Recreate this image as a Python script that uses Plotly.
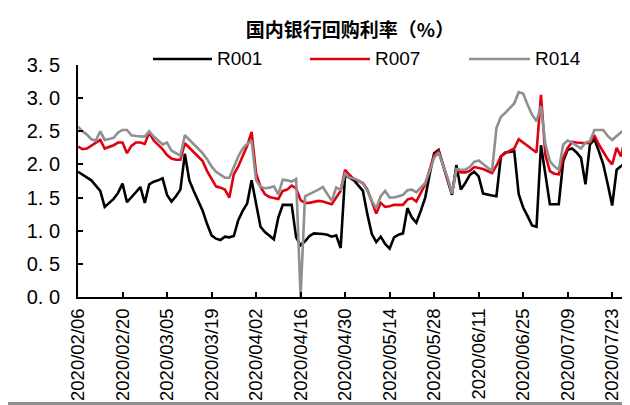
import pandas as pd
import plotly.graph_objects as go

# 银行间回购利率（%），交易日序列，自 2020/02/06 起
r001 = [1.89, 1.85, 1.80, 1.76, 1.68, 1.60, 1.36, 1.42, 1.48, 1.57,
        1.71, 1.43, 1.50, 1.58, 1.66, 1.42, 1.70, 1.74, 1.76, 1.79,
        1.54, 1.44, 1.52, 1.62, 2.16, 1.76, 1.60, 1.45, 1.30, 1.10,
        0.93, 0.88, 0.86, 0.91, 0.90, 0.92, 1.16, 1.30, 1.41, 1.76,
        1.41, 1.06, 0.98, 0.93, 0.87, 1.20, 1.39, 1.39, 1.39, 0.90,
        0.78, 0.84, 0.92, 0.96, 0.96, 0.95, 0.94, 0.91, 0.93, 0.74,
        1.84, 1.80, 1.76, 1.68, 1.60, 1.25, 0.95, 0.83, 0.91, 0.80,
        0.73, 0.90, 0.94, 0.96, 1.34, 1.20, 1.12, 1.30, 1.50, 1.85,
        2.17, 2.22, 2.00, 1.78, 1.54, 1.99, 1.62, 1.72, 1.84, 1.89,
        1.82, 1.56, 1.54, 1.53, 1.52, 2.12, 2.18, 2.19, 2.20, 1.55,
        1.35, 1.22, 1.08, 1.06, 2.29, 1.85, 1.40, 1.40, 1.40, 2.05,
        2.22, 2.24, 2.18, 2.10, 1.70, 2.30, 2.38, 2.20, 2.00, 1.70,
        1.38, 1.92, 1.97, 2.03, 1.78]
r007 = [2.27, 2.23, 2.24, 2.28, 2.33, 2.37, 2.24, 2.26, 2.29, 2.33,
        2.33, 2.17, 2.28, 2.33, 2.33, 2.31, 2.48, 2.36, 2.30, 2.23,
        2.14, 2.09, 2.07, 2.07, 2.32, 2.25, 2.18, 2.12, 2.05, 1.90,
        1.78, 1.67, 1.65, 1.62, 1.50, 1.85, 1.97, 2.12, 2.28, 2.49,
        1.87, 1.66, 1.55, 1.51, 1.49, 1.48, 1.60, 1.62, 1.68, 1.64,
        1.46, 1.42, 1.42, 1.44, 1.45, 1.44, 1.42, 1.40, 1.50, 1.60,
        1.92, 1.84, 1.78, 1.75, 1.72, 1.62, 1.45, 1.26, 1.42, 1.36,
        1.37, 1.39, 1.39, 1.39, 1.47, 1.49, 1.44, 1.58, 1.70, 1.92,
        2.14, 2.20, 2.00, 1.80, 1.57, 1.92, 1.88, 1.88, 1.90, 1.96,
        1.95, 1.93, 1.90, 1.87, 1.98, 2.12, 2.17, 2.20, 2.24, 2.38,
        2.33, 2.28, 2.23, 2.18, 3.05, 2.14, 1.90, 1.86, 1.85, 2.10,
        2.25, 2.34, 2.33, 2.32, 2.32, 2.33, 2.44, 2.30, 2.18, 2.08,
        2.00, 2.25, 2.12, 2.44, 2.33]
r014 = [2.57, 2.50, 2.45, 2.38, 2.36, 2.50, 2.37, 2.38, 2.40, 2.48,
        2.52, 2.52, 2.44, 2.43, 2.43, 2.42, 2.50, 2.42, 2.36, 2.30,
        2.33, 2.21, 2.17, 2.13, 2.44, 2.37, 2.31, 2.24, 2.17, 2.08,
        1.97, 1.89, 1.84, 1.80, 1.80, 1.95, 2.12, 2.24, 2.31, 2.36,
        1.76, 1.66, 1.64, 1.65, 1.67, 1.55, 1.77, 1.76, 1.74, 1.78,
        0.00, 1.52, 1.55, 1.58, 1.62, 1.66, 1.55, 1.45, 1.65, 1.62,
        1.86, 1.80, 1.79, 1.76, 1.71, 1.60, 1.45, 1.34, 1.52, 1.60,
        1.50, 1.50, 1.52, 1.54, 1.61, 1.62, 1.58, 1.65, 1.72, 1.90,
        2.10, 2.18, 2.00, 1.80, 1.56, 1.93, 1.92, 1.92, 1.96, 2.04,
        2.06, 2.01, 1.96, 1.90, 2.55, 2.72, 2.78, 2.85, 2.92, 3.09,
        3.07, 2.90, 2.75, 2.65, 2.88, 2.30, 2.05, 1.97, 1.92, 2.30,
        2.36, 2.33, 2.28, 2.24, 2.33, 2.35, 2.52, 2.52, 2.52, 2.43,
        2.37, 2.43, 2.48, 2.54, 2.35]

y_ticks = [0.0, 0.5, 1.0, 1.5, 2.0, 2.5, 3.0, 3.5]
y_ticktext = ["0. 0", "0. 5", "1. 0", "1. 5", "2. 0", "2. 5", "3. 0", "3. 5"]

dates = list(pd.bdate_range("2020-02-06", periods=len(r001)).strftime("%Y/%m/%d"))
x_tickvals = dates[::10]

_SERIES = [
    ("R001", r001, "#000000"),
    ("R007", r007, "#E0000F"),
    ("R014", r014, "#8F8F8F"),
]

# 页面 body 默认有 8px 边距，图在窗口中整体右移/下移 8px
OFF = 8
W, H = 630, 405
M = {"l": 78 - OFF, "r": OFF, "t": 65 - OFF, "b": H - (297 - OFF)}
PW = W - M["l"] - M["r"]
PH = H - M["t"] - M["b"]


def px_x(px):
    # 截图像素 -> paper 坐标
    return (px - OFF - M["l"]) / PW


def px_y(py):
    return (H - M["b"] - (py - OFF)) / PH


fig = go.Figure()
for name, vals, color in _SERIES:
    fig.add_trace(
        go.Scatter(
            x=dates,
            y=vals,
            mode="lines",
            name=name,
            line={"color": color, "width": 2.6},
            showlegend=False,
        )
    )

# 图例：手工画长线段 + 文字
legend_pos = [(153, 212), (310, 370), (469, 530)]
for (name, _, color), (x0, x1) in zip(_SERIES, legend_pos):
    fig.add_shape(
        type="line", xref="paper", yref="paper",
        x0=px_x(x0), x1=px_x(x1), y0=px_y(59), y1=px_y(59),
        line={"color": color, "width": 2.6},
    )
    fig.add_annotation(
        text=name, xref="paper", yref="paper",
        x=px_x(x1 + 3), y=px_y(59), xanchor="left", yanchor="middle",
        showarrow=False, font={"size": 19, "color": "#000000"},
    )

# 底部灰色边框
fig.add_shape(
    type="rect", xref="paper", yref="paper",
    x0=px_x(3), x1=px_x(W + 2), y0=px_y(402), y1=px_y(406),
    line={"width": 0}, fillcolor="#8F8F8F",
)

fig.update_layout(
    width=W,
    height=H,
    margin=M,
    plot_bgcolor="#FFFFFF",
    paper_bgcolor="#FFFFFF",
    font={"family": "Liberation Sans, Arial, sans-serif", "size": 20, "color": "#000000"},
    title={
        "text": "<b>国内银行回购利率（%）</b>",
        "x": px_x(350), "xref": "paper", "xanchor": "center",
        "y": 1 - (30 - OFF) / H, "yanchor": "middle",
        "font": {"family": "Noto Sans CJK SC", "size": 19, "color": "#000000"},
    },
    showlegend=False,
)
fig.update_xaxes(
    type="category",
    range=[0, len(dates) - 1],
    tickmode="array",
    tickvals=x_tickvals,
    ticktext=x_tickvals,
    tickangle=-90,
    ticks="inside",
    ticklen=5,
    tickwidth=1.5,
    tickcolor="#000000",
    showline=True,
    linecolor="#000000",
    linewidth=2,
    showgrid=False,
    zeroline=False,
    automargin=False,
    ticklabelstandoff=2,
    tickfont={"size": 18.5},
)
fig.update_yaxes(
    range=[0, 3.5],
    tickmode="array",
    tickvals=y_ticks,
    ticktext=y_ticktext,
    ticks="inside",
    ticklen=5,
    tickwidth=1.5,
    tickcolor="#000000",
    showline=True,
    linecolor="#000000",
    linewidth=2,
    showgrid=False,
    zeroline=False,
    automargin=False,
    ticklabelstandoff=12,
    tickfont={"size": 20},
)

fig.write_html("out.html")
